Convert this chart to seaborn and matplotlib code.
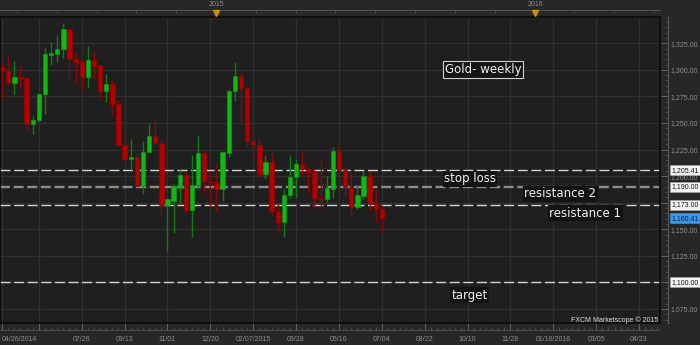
import numpy as np
import pandas as pd
import matplotlib
matplotlib.use("Agg")
import matplotlib.pyplot as plt
import matplotlib.transforms as mtransforms
from matplotlib.patches import Rectangle
from matplotlib.ticker import FixedLocator, FuncFormatter
import seaborn as sns

# ---------------- data ----------------
weeks = list(range(63))
opens = [1303, 1299, 1288, 1293, 1292, 1249, 1253, 1277, 1314, 1315,
         1320, 1338, 1310, 1308, 1293, 1309, 1305, 1280, 1287, 1268,
         1229, 1216, 1218, 1191, 1223, 1238, 1231, 1173, 1177, 1189,
         1201, 1168, 1192, 1222, 1195, 1194, 1188, 1222, 1280, 1294,
         1283, 1233, 1229, 1202, 1213, 1167, 1157, 1182, 1199, 1211,
         1207, 1204, 1179, 1178, 1188, 1224, 1206, 1190, 1171, 1181,
         1200, 1175, 1169]
highs = [1306, 1315, 1308, 1305, 1292, 1257, 1277, 1321, 1326, 1333,
         1344, 1338, 1317, 1310, 1322, 1319, 1305, 1296, 1290, 1272,
         1242, 1235, 1222, 1233, 1249, 1255, 1235, 1178, 1193, 1207,
         1204, 1220, 1238, 1224, 1204, 1210, 1223, 1282, 1307, 1298,
         1285, 1246, 1236, 1220, 1222, 1174, 1188, 1220, 1216, 1224,
         1209, 1208, 1215, 1200, 1227, 1232, 1208, 1204, 1192, 1205,
         1205, 1188, 1173]
lows = [1273, 1286, 1277, 1283, 1242, 1240, 1251, 1258, 1305, 1307,
        1311, 1292, 1287, 1281, 1283, 1292, 1272, 1270, 1258, 1228,
        1214, 1206, 1191, 1183, 1222, 1231, 1162, 1130, 1146, 1175,
        1166, 1143, 1188, 1184, 1171, 1167, 1177, 1218, 1271, 1252,
        1228, 1216, 1198, 1197, 1163, 1148, 1143, 1179, 1179, 1199,
        1184, 1170, 1169, 1176, 1179, 1206, 1181, 1163, 1169, 1178,
        1168, 1157, 1147]
closes = [1299, 1289, 1293, 1292, 1249, 1253, 1277, 1315, 1316, 1320,
          1338, 1310, 1307, 1293, 1309, 1304, 1280, 1287, 1268, 1229,
          1216, 1218, 1191, 1223, 1238, 1231, 1173, 1178, 1191, 1201,
          1168, 1192, 1222, 1195, 1194, 1188, 1223, 1280, 1294, 1283,
          1233, 1229, 1202, 1213, 1167, 1157, 1182, 1199, 1211, 1207,
          1204, 1179, 1178, 1189, 1224, 1206, 1190, 1171, 1182, 1200,
          1175, 1169, 1160.41]

tick_weeks = [0, 6, 13, 20, 27, 34, 41, 48, 55, 62, 69, 76, 83, 90, 97, 104]
tick_labels = ['04/26/2014', '', '07/26', '09/13', '11/01', '12/20',
               '02/07/2015', '03/28', '05/16', '07/04', '08/22', '10/10',
               '11/28', '01/16/2016', '03/05', '04/23']
year_weeks = [35, 87]
year_labels = ['2015', '2016']
price_ticks = [1075, 1100, 1125, 1150, 1175, 1200, 1225, 1250, 1275, 1300, 1325]

levels = [1205.41, 1190.00, 1173.00, 1100.00]
last_price = 1160.41

notes = ['Gold- weekly', 'stop loss', 'resistance 2', 'resistance 1', 'target']
note_x = [78.5, 76.4, 91.1, 95.2, 76.3]
note_y = [1300.3, 1197.5, 1183.2, 1165.0, 1087.8]

# ---------------- style ----------------
PLOT_BG = '#1f1f1f'
OUT_BG = '#272727'
GRID = '#303030'
TXT = '#8e8e8e'
sns.set_theme(style='dark', rc={'axes.facecolor': PLOT_BG,
                                'figure.facecolor': OUT_BG,
                                'savefig.facecolor': OUT_BG})
plt.rcParams['font.family'] = ['DejaVu Sans']

df = pd.DataFrame({'week': weeks, 'open': opens, 'high': highs,
                   'low': lows, 'close': closes})
df['up'] = df['close'] >= df['open']
df['body_low'] = df[['open', 'close']].min(axis=1)
df['body_h'] = (df['close'] - df['open']).abs().clip(lower=0.9)

fig = plt.figure(figsize=(7, 3.45), dpi=100)
W, H = 700, 345
ax = fig.add_axes([0, (H - 323.3) / H, 660 / W, (323.3 - 16.7) / H])

up_body, up_edge, up_wick = '#10b810', '#0c9a0c', '#137a13'
dn_body, dn_edge, dn_wick = '#b40000', '#9a0000', '#8c0808'

wick_cols = np.where(df['up'], up_wick, dn_wick)
ax.vlines(df['week'], df['low'], df['high'], colors=wick_cols, lw=1.0, zorder=3)
ax.bar(df['week'], df['body_h'], bottom=df['body_low'], width=0.72,
       color=np.where(df['up'], up_body, dn_body),
       edgecolor=np.where(df['up'], up_edge, dn_edge), linewidth=0.5, zorder=4)

# horizontal levels
level_colors = ['#d4d4d4', '#8c8c8c', '#d4d4d4', '#d4d4d4']
level_lw = [1.0, 1.7, 1.0, 1.0]
for lv, c, lw in zip(levels, level_colors, level_lw):
    ax.axhline(lv, color=c, lw=lw, linestyle=(0, (7.2 / lw, 2.6 / lw)), zorder=2)

ax.set_xlim(-0.34, 107.41)
ax.set_ylim(1061.5, 1350)

# grid
ax.xaxis.set_major_locator(FixedLocator(tick_weeks))
ax.set_xticklabels(tick_labels)
ax.xaxis.set_minor_locator(FixedLocator(np.arange(0, 108)))
ax.yaxis.set_major_locator(FixedLocator(price_ticks))
ax.yaxis.set_minor_locator(FixedLocator(np.arange(1065, 1350, 5)))
ax.yaxis.set_major_formatter(FuncFormatter(lambda v, p: f'{v:,.2f}'))
ax.grid(True, which='major', color=GRID, lw=0.9, zorder=0)
ax.axhline(1350, color=GRID, lw=0.9, zorder=0)
ax.set_axisbelow(True)

ax.yaxis.tick_right()
for s in ['left', 'top']:
    ax.spines[s].set_visible(False)
ax.spines['right'].set_position(('outward', 5.8))
ax.spines['bottom'].set_position(('outward', 5.0))
ax.spines['right'].set_color('#5a5a5a')
ax.spines['bottom'].set_color('#4a4a4a')
ax.spines['right'].set_linewidth(0.8)
ax.spines['bottom'].set_linewidth(0.8)

ax.tick_params(axis='y', which='major', direction='in', length=5.0, width=0.6,
               color='#6a6a6a', pad=1.5, labelsize=5, labelcolor=TXT,
               labelfontfamily='Liberation Sans', right=True, left=False)
ax.tick_params(axis='y', which='minor', direction='in', length=2.2, width=0.5,
               color='#5a5a5a', right=True, left=False)
ax.tick_params(axis='x', which='major', direction='in', length=5.0, width=0.6,
               color='#6a6a6a', pad=4.0, labelsize=5, labelcolor=TXT,
               labelfontfamily='Liberation Sans', bottom=True)
ax.tick_params(axis='x', which='minor', direction='in', length=2.0, width=0.5,
               color='#5a5a5a', bottom=True)
lbls = ax.get_xticklabels()
lbls[0].set_ha('left')
lbls[0].set_x(-0.34)

# plot frame
ax.add_patch(Rectangle((0, 0), 1, 1, transform=ax.transAxes, fill=False,
                       ec='#0c0c0c', lw=1.3, clip_on=False, zorder=6))

# top year strip
sec = ax.secondary_xaxis(1 + 7 / 306.6)
sec.set_xticks(year_weeks, labels=year_labels)
sec.xaxis.set_minor_locator(FixedLocator(np.arange(2.43, 108, 6.5)))
sec.tick_params(axis='x', which='major', length=0, pad=1.2, labelsize=5,
                labelcolor=TXT, labelfontfamily='Liberation Sans')
sec.tick_params(axis='x', which='minor', direction='in', length=2.0, width=0.5,
                color='#5a5a5a')
sec.spines['top'].set_color('#505050')
sec.spines['top'].set_linewidth(0.8)
btrans = mtransforms.blended_transform_factory(ax.transData, ax.transAxes)
ax.plot(year_weeks, [1.0115] * len(year_weeks), transform=btrans, ls='none',
        marker='v', markersize=4.2, color='#c8900c', clip_on=False, zorder=7)

# right price boxes
rtrans = mtransforms.blended_transform_factory(ax.transAxes, ax.transData)
for lv in levels:
    ax.text(1.0168, lv, f'{lv:,.2f}', transform=rtrans, ha='left', va='center',
            fontsize=5, family='Liberation Sans', color='#111111',
            bbox=dict(boxstyle='square,pad=0.22', fc='#f4f4f4', ec='#aaaaaa', lw=0.4),
            clip_on=False, zorder=10)
ax.text(1.0168, last_price, f'{last_price:,.2f}', transform=rtrans, ha='left',
        va='center', fontsize=5, family='Liberation Sans', color='#0a1f50',
        bbox=dict(boxstyle='square,pad=0.22', fc='#3c98e6', ec='#3c98e6', lw=0.4),
        clip_on=False, zorder=10)

# annotations
for i, (t, x, y) in enumerate(zip(notes, note_x, note_y)):
    if i == 0:
        bb = dict(boxstyle='square,pad=0.16', fc='#151515', ec='#d0d0d0', lw=0.8)
    else:
        bb = dict(boxstyle='square,pad=0.12', fc='#131313', ec='none')
    ax.text(x, y, t, ha='center', va='center', fontsize=8.5, color='#f2f2f2',
            family='DejaVu Sans', bbox=bb, zorder=8)

ax.text(0.998, 0.010, 'FXCM Marketscope \u00a9 2015', transform=ax.transAxes,
        ha='right', va='center', fontsize=5, family='Liberation Sans',
        color='#dedede', zorder=8)

fig.savefig('out.png', dpi=100, facecolor=OUT_BG)
